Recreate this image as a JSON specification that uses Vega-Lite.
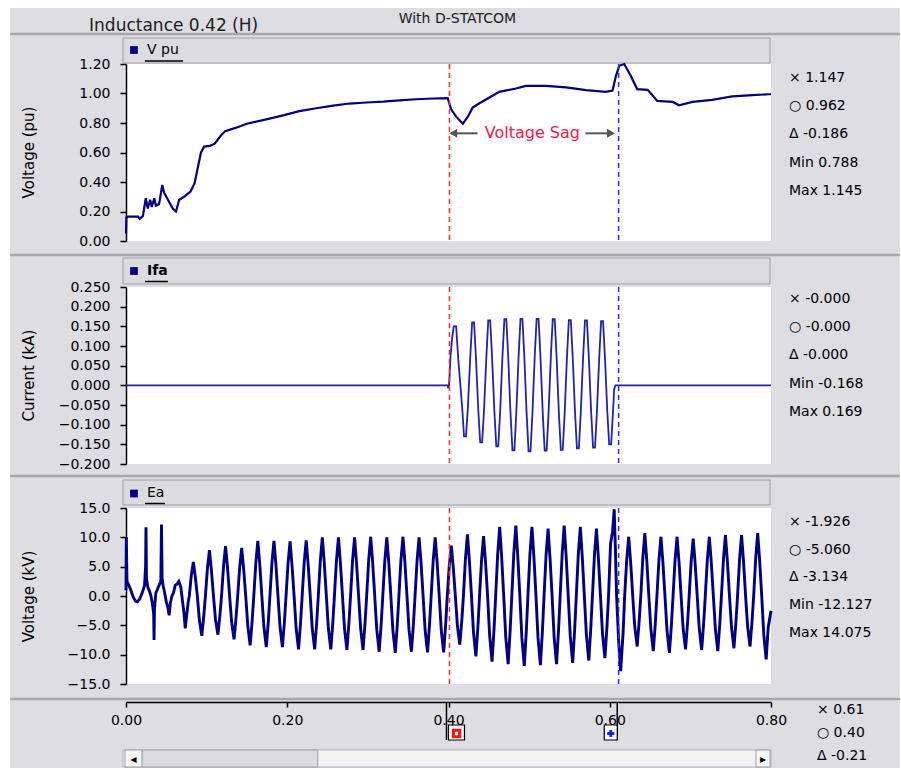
{
"$schema": "https://vega.github.io/schema/vega-lite/v6.json",
"background": "white",
"padding": {"left": 8, "top": 0, "right": 0, "bottom": 0},
"bounds": "flush",
"spacing": 0,
"resolve": {"scale": {"x": "independent", "y": "independent"}},
"config": {
  "font": "DejaVu Sans",
  "view": {"stroke": null},
  "axis": {"grid": false, "domainColor": "#000000", "tickColor": "#000000", "labelColor": "#000000", "titleColor": "#000000", "labelFont": "DejaVu Sans", "titleFont": "DejaVu Sans", "labelFontSize": 14, "titleFontSize": 15, "titleFontWeight": "normal", "tickSize": 6, "labelPadding": 10, "domainWidth": 1.5, "tickWidth": 1.5, "labelOverlap": false, "labelFlush": false, "tickCount": 40}
},
"data": {"values": [{}]},
"datasets": {
"vpu": [{"t":0,"v":0.05},{"t":0.0005,"v":0.16},{"t":0.003,"v":0.165},{"t":0.015,"v":0.165},{"t":0.017,"v":0.15},{"t":0.021,"v":0.17},{"t":0.0245,"v":0.29},{"t":0.027,"v":0.22},{"t":0.03,"v":0.28},{"t":0.032,"v":0.23},{"t":0.035,"v":0.29},{"t":0.037,"v":0.24},{"t":0.041,"v":0.25},{"t":0.045,"v":0.38},{"t":0.047,"v":0.33},{"t":0.052,"v":0.28},{"t":0.058,"v":0.22},{"t":0.062,"v":0.2},{"t":0.066,"v":0.28},{"t":0.072,"v":0.3},{"t":0.08,"v":0.335},{"t":0.085,"v":0.39},{"t":0.088,"v":0.47},{"t":0.093,"v":0.6},{"t":0.097,"v":0.64},{"t":0.104,"v":0.645},{"t":0.11,"v":0.66},{"t":0.117,"v":0.71},{"t":0.123,"v":0.745},{"t":0.13,"v":0.757},{"t":0.14,"v":0.775},{"t":0.15,"v":0.795},{"t":0.174,"v":0.825},{"t":0.195,"v":0.852},{"t":0.215,"v":0.88},{"t":0.236,"v":0.9},{"t":0.257,"v":0.918},{"t":0.277,"v":0.932},{"t":0.298,"v":0.939},{"t":0.319,"v":0.945},{"t":0.339,"v":0.954},{"t":0.36,"v":0.961},{"t":0.381,"v":0.966},{"t":0.399,"v":0.968},{"t":0.4033,"v":0.893},{"t":0.4095,"v":0.843},{"t":0.4178,"v":0.795},{"t":0.424,"v":0.843},{"t":0.43,"v":0.905},{"t":0.4384,"v":0.934},{"t":0.4508,"v":0.973},{"t":0.463,"v":1.011},{"t":0.4838,"v":1.034},{"t":0.496,"v":1.052},{"t":0.521,"v":1.052},{"t":0.546,"v":1.041},{"t":0.5705,"v":1.023},{"t":0.5953,"v":1.011},{"t":0.6035,"v":1.02},{"t":0.6077,"v":1.12},{"t":0.6118,"v":1.188},{"t":0.618,"v":1.2},{"t":0.626,"v":1.12},{"t":0.634,"v":1.03},{"t":0.647,"v":1.025},{"t":0.659,"v":0.95},{"t":0.678,"v":0.943},{"t":0.686,"v":0.92},{"t":0.7026,"v":0.943},{"t":0.727,"v":0.957},{"t":0.752,"v":0.98},{"t":0.777,"v":0.989},{"t":0.7975,"v":0.995},{"t":0.8,"v":0.995}],
"ifa": [{"t":0,"v":0},{"t":0.399,"v":0},{"t":0.3995,"v":-0.006},{"t":0.4005,"v":-0.006},{"t":0.4012,"v":0.02},{"t":0.4025,"v":0.075},{"t":0.4045,"v":0.12},{"t":0.4065,"v":0.15},{"t":0.4095,"v":0.15},{"t":0.412,"v":0.07},
{"t":0.417,"v":-0.058},{"t":0.4193,"v":-0.13},{"t":0.4217,"v":-0.13},{"t":0.424,"v":-0.058},
{"t":0.427,"v":0.072},{"t":0.4293,"v":0.16},{"t":0.4317,"v":0.16},{"t":0.434,"v":0.072},
{"t":0.437,"v":-0.065},{"t":0.4393,"v":-0.145},{"t":0.4417,"v":-0.145},{"t":0.444,"v":-0.065},
{"t":0.447,"v":0.074},{"t":0.4493,"v":0.165},{"t":0.4517,"v":0.165},{"t":0.454,"v":0.074},
{"t":0.457,"v":-0.07},{"t":0.4593,"v":-0.155},{"t":0.4617,"v":-0.155},{"t":0.464,"v":-0.07},
{"t":0.467,"v":0.076},{"t":0.4693,"v":0.168},{"t":0.4717,"v":0.168},{"t":0.474,"v":0.076},
{"t":0.477,"v":-0.074},{"t":0.4793,"v":-0.165},{"t":0.4817,"v":-0.165},{"t":0.484,"v":-0.074},
{"t":0.487,"v":0.076},{"t":0.4893,"v":0.169},{"t":0.4917,"v":0.169},{"t":0.494,"v":0.076},
{"t":0.497,"v":-0.076},{"t":0.4993,"v":-0.168},{"t":0.5017,"v":-0.168},{"t":0.504,"v":-0.076},
{"t":0.507,"v":0.076},{"t":0.5093,"v":0.169},{"t":0.5117,"v":0.169},{"t":0.514,"v":0.076},
{"t":0.517,"v":-0.075},{"t":0.5193,"v":-0.166},{"t":0.5217,"v":-0.166},{"t":0.524,"v":-0.075},
{"t":0.527,"v":0.076},{"t":0.5293,"v":0.168},{"t":0.5317,"v":0.168},{"t":0.534,"v":0.076},
{"t":0.537,"v":-0.074},{"t":0.5393,"v":-0.164},{"t":0.5417,"v":-0.164},{"t":0.544,"v":-0.074},
{"t":0.547,"v":0.075},{"t":0.5493,"v":0.166},{"t":0.5517,"v":0.166},{"t":0.554,"v":0.075},
{"t":0.557,"v":-0.072},{"t":0.5593,"v":-0.16},{"t":0.5617,"v":-0.16},{"t":0.564,"v":-0.072},
{"t":0.567,"v":0.074},{"t":0.5693,"v":0.165},{"t":0.5717,"v":0.165},{"t":0.574,"v":0.074},
{"t":0.577,"v":-0.071},{"t":0.5793,"v":-0.158},{"t":0.5817,"v":-0.158},{"t":0.584,"v":-0.071},
{"t":0.587,"v":0.073},{"t":0.5893,"v":0.163},{"t":0.5917,"v":0.163},{"t":0.594,"v":0.073},
{"t":0.597,"v":-0.068},{"t":0.5993,"v":-0.15},{"t":0.6017,"v":-0.15},{"t":0.604,"v":-0.068},{"t":0.6055,"v":-0.01},{"t":0.607,"v":0},{"t":0.8,"v":0}],
"ea": [{"t":0,"v":1.0},{"t":0.0004,"v":10.0},{"t":0.0012,"v":2.5},{"t":0.003,"v":2.0},{"t":0.006,"v":1.0},{"t":0.009,"v":-0.2},{"t":0.012,"v":-0.9},{"t":0.014,"v":-1.0},{"t":0.017,"v":-0.5},{"t":0.02,"v":0.5},{"t":0.023,"v":1.8},{"t":0.0243,"v":5.0},{"t":0.0248,"v":11.7},{"t":0.0254,"v":3.0},{"t":0.027,"v":1.5},{"t":0.029,"v":0.9},{"t":0.031,"v":0.0},{"t":0.033,"v":-1.5},{"t":0.0343,"v":-3.0},{"t":0.0348,"v":-7.5},{"t":0.0353,"v":-2.2},{"t":0.037,"v":0.5},{"t":0.04,"v":1.5},{"t":0.0432,"v":2.5},{"t":0.044,"v":12.2},{"t":0.0448,"v":3.0},{"t":0.046,"v":1.8},{"t":0.048,"v":0.5},{"t":0.05,"v":-1.0},{"t":0.052,"v":-2.0},{"t":0.0535,"v":-3.3},{"t":0.055,"v":-1.2},{"t":0.057,"v":0.0},{"t":0.059,"v":0.6},{"t":0.061,"v":1.8},{"t":0.063,"v":2.0},{"t":0.0655,"v":2.5},{"t":0.068,"v":1.5},{"t":0.07,"v":-0.8},{"t":0.072,"v":-3.0},{"t":0.0735,"v":-5.5},{"t":0.0755,"v":-3.0},{"t":0.0772,"v":-1.0},
{"t":0.0785,"v":0},{"t":0.081,"v":3.5},{"t":0.0835,"v":5.8},{"t":0.086,"v":3.2},{"t":0.0885,"v":0},{"t":0.091,"v":-4.1},{"t":0.094,"v":-6.8},{"t":0.0965,"v":-3.4},
{"t":0.0985,"v":0},{"t":0.101,"v":4.7},{"t":0.1035,"v":7.8},{"t":0.106,"v":4.3},{"t":0.1085,"v":0},{"t":0.111,"v":-4.0},{"t":0.114,"v":-6.6},{"t":0.1165,"v":-3.3},
{"t":0.1185,"v":0},{"t":0.121,"v":5.1},{"t":0.1235,"v":8.5},{"t":0.126,"v":4.7},{"t":0.1285,"v":0},{"t":0.131,"v":-4.4},{"t":0.134,"v":-7.4},{"t":0.1365,"v":-3.7},
{"t":0.1385,"v":0},{"t":0.141,"v":4.9},{"t":0.1435,"v":8.2},{"t":0.146,"v":4.5},{"t":0.1485,"v":0},{"t":0.151,"v":-5.0},{"t":0.154,"v":-8.4},{"t":0.1565,"v":-4.2},
{"t":0.1585,"v":0},{"t":0.161,"v":5.6},{"t":0.1635,"v":9.4},{"t":0.166,"v":5.2},{"t":0.1685,"v":0},{"t":0.171,"v":-5.2},{"t":0.174,"v":-8.7},{"t":0.1765,"v":-4.4},
{"t":0.1785,"v":0},{"t":0.181,"v":5.6},{"t":0.1835,"v":9.4},{"t":0.186,"v":5.2},{"t":0.1885,"v":0},{"t":0.191,"v":-5.2},{"t":0.194,"v":-8.7},{"t":0.1965,"v":-4.4},
{"t":0.1985,"v":0},{"t":0.201,"v":5.6},{"t":0.2035,"v":9.3},{"t":0.206,"v":5.1},{"t":0.2085,"v":0},{"t":0.211,"v":-5.5},{"t":0.214,"v":-9.1},{"t":0.2165,"v":-4.6},
{"t":0.2185,"v":0},{"t":0.221,"v":5.7},{"t":0.2235,"v":9.5},{"t":0.226,"v":5.2},{"t":0.2285,"v":0},{"t":0.231,"v":-5.5},{"t":0.234,"v":-9.1},{"t":0.2365,"v":-4.6},
{"t":0.2385,"v":0},{"t":0.241,"v":6.0},{"t":0.2435,"v":10.0},{"t":0.246,"v":5.5},{"t":0.2485,"v":0},{"t":0.251,"v":-5.5},{"t":0.254,"v":-9.1},{"t":0.2565,"v":-4.6},
{"t":0.2585,"v":0},{"t":0.261,"v":6.0},{"t":0.2635,"v":10.0},{"t":0.266,"v":5.5},{"t":0.2685,"v":0},{"t":0.271,"v":-5.5},{"t":0.274,"v":-9.2},{"t":0.2765,"v":-4.6},
{"t":0.2785,"v":0},{"t":0.281,"v":6.0},{"t":0.2835,"v":10.0},{"t":0.286,"v":5.5},{"t":0.2885,"v":0},{"t":0.291,"v":-5.5},{"t":0.294,"v":-9.2},{"t":0.2965,"v":-4.6},
{"t":0.2985,"v":0},{"t":0.301,"v":6.1},{"t":0.3035,"v":10.1},{"t":0.306,"v":5.6},{"t":0.3085,"v":0},{"t":0.311,"v":-5.7},{"t":0.314,"v":-9.5},{"t":0.3165,"v":-4.8},
{"t":0.3185,"v":0},{"t":0.321,"v":6.0},{"t":0.3235,"v":10.0},{"t":0.326,"v":5.5},{"t":0.3285,"v":0},{"t":0.331,"v":-5.8},{"t":0.334,"v":-9.7},{"t":0.3365,"v":-4.9},
{"t":0.3385,"v":0},{"t":0.341,"v":6.1},{"t":0.3435,"v":10.1},{"t":0.346,"v":5.6},{"t":0.3485,"v":0},{"t":0.351,"v":-5.7},{"t":0.354,"v":-9.5},{"t":0.3565,"v":-4.8},
{"t":0.3585,"v":0},{"t":0.361,"v":6.0},{"t":0.3635,"v":10.0},{"t":0.366,"v":5.5},{"t":0.3685,"v":0},{"t":0.371,"v":-5.8},{"t":0.374,"v":-9.6},{"t":0.3765,"v":-4.8},
{"t":0.3785,"v":0},{"t":0.381,"v":6.0},{"t":0.3835,"v":10.0},{"t":0.386,"v":5.5},{"t":0.3885,"v":0},{"t":0.391,"v":-5.8},{"t":0.394,"v":-9.6},{"t":0.3965,"v":-4.8},
{"t":0.3985,"v":0},{"t":0.401,"v":5.2},{"t":0.4035,"v":8.6},{"t":0.406,"v":4.7},{"t":0.4085,"v":0},{"t":0.411,"v":-5.0},{"t":0.414,"v":-8.3},{"t":0.4165,"v":-4.2},
{"t":0.4185,"v":0},{"t":0.421,"v":6.3},{"t":0.4235,"v":10.5},{"t":0.426,"v":5.8},{"t":0.4285,"v":0},{"t":0.431,"v":-6.2},{"t":0.434,"v":-10.3},{"t":0.4365,"v":-5.2},
{"t":0.4385,"v":0},{"t":0.441,"v":6.1},{"t":0.4435,"v":10.2},{"t":0.446,"v":5.6},{"t":0.4485,"v":0},{"t":0.451,"v":-6.7},{"t":0.454,"v":-11.2},{"t":0.4565,"v":-5.6},
{"t":0.4585,"v":0},{"t":0.461,"v":7.1},{"t":0.4635,"v":11.8},{"t":0.466,"v":6.5},{"t":0.4685,"v":0},{"t":0.471,"v":-7.0},{"t":0.474,"v":-11.6},{"t":0.4765,"v":-5.8},
{"t":0.4785,"v":0},{"t":0.481,"v":7.2},{"t":0.4835,"v":12.0},{"t":0.486,"v":6.6},{"t":0.4885,"v":0},{"t":0.491,"v":-7.1},{"t":0.494,"v":-11.9},{"t":0.4965,"v":-6.0},
{"t":0.4985,"v":0},{"t":0.501,"v":7.1},{"t":0.5035,"v":11.8},{"t":0.506,"v":6.5},{"t":0.5085,"v":0},{"t":0.511,"v":-7.1},{"t":0.514,"v":-11.8},{"t":0.5165,"v":-5.9},
{"t":0.5185,"v":0},{"t":0.521,"v":6.9},{"t":0.5235,"v":11.5},{"t":0.526,"v":6.3},{"t":0.5285,"v":0},{"t":0.531,"v":-7.0},{"t":0.534,"v":-11.6},{"t":0.5365,"v":-5.8},
{"t":0.5385,"v":0},{"t":0.541,"v":7.2},{"t":0.5435,"v":12.0},{"t":0.546,"v":6.6},{"t":0.5485,"v":0},{"t":0.551,"v":-6.8},{"t":0.554,"v":-11.4},{"t":0.5565,"v":-5.7},
{"t":0.5585,"v":0},{"t":0.561,"v":7.1},{"t":0.5635,"v":11.8},{"t":0.566,"v":6.5},{"t":0.5685,"v":0},{"t":0.571,"v":-6.6},{"t":0.574,"v":-11.0},{"t":0.5765,"v":-5.5},
{"t":0.5785,"v":0},{"t":0.581,"v":6.9},{"t":0.5835,"v":11.5},{"t":0.586,"v":6.3},{"t":0.5885,"v":0},{"t":0.591,"v":-6.4},{"t":0.594,"v":-10.6},{"t":0.5965,"v":-5.3},
{"t":0.5985,"v":0},{"t":0.601,"v":8.9},{"t":0.6035,"v":11.0},{"t":0.6055,"v":14.8},{"t":0.607,"v":8.1},{"t":0.6085,"v":0},{"t":0.611,"v":-7.7},{"t":0.6135,"v":-12.8},{"t":0.6165,"v":-6.4},
{"t":0.6185,"v":0},{"t":0.621,"v":6.1},{"t":0.6235,"v":10.1},{"t":0.626,"v":5.6},{"t":0.6285,"v":0},{"t":0.631,"v":-5.2},{"t":0.634,"v":-8.6},{"t":0.6365,"v":-4.3},
{"t":0.6385,"v":0},{"t":0.641,"v":6.4},{"t":0.6435,"v":10.7},{"t":0.646,"v":5.9},{"t":0.6485,"v":0},{"t":0.651,"v":-5.6},{"t":0.654,"v":-9.4},{"t":0.6565,"v":-4.7},
{"t":0.6585,"v":0},{"t":0.661,"v":6.1},{"t":0.6635,"v":10.1},{"t":0.666,"v":5.6},{"t":0.6685,"v":0},{"t":0.671,"v":-5.8},{"t":0.674,"v":-9.7},{"t":0.6765,"v":-4.9},
{"t":0.6785,"v":0},{"t":0.681,"v":6.1},{"t":0.6835,"v":10.1},{"t":0.686,"v":5.6},{"t":0.6885,"v":0},{"t":0.691,"v":-5.5},{"t":0.694,"v":-9.1},{"t":0.6965,"v":-4.6},
{"t":0.6985,"v":0},{"t":0.701,"v":5.9},{"t":0.7035,"v":9.8},{"t":0.706,"v":5.4},{"t":0.7085,"v":0},{"t":0.711,"v":-5.5},{"t":0.714,"v":-9.2},{"t":0.7165,"v":-4.6},
{"t":0.7185,"v":0},{"t":0.721,"v":6.1},{"t":0.7235,"v":10.1},{"t":0.726,"v":5.6},{"t":0.7285,"v":0},{"t":0.731,"v":-5.6},{"t":0.734,"v":-9.4},{"t":0.7365,"v":-4.7},
{"t":0.7385,"v":0},{"t":0.741,"v":6.2},{"t":0.7435,"v":10.4},{"t":0.746,"v":5.7},{"t":0.7485,"v":0},{"t":0.751,"v":-5.3},{"t":0.754,"v":-8.9},{"t":0.7565,"v":-4.5},
{"t":0.7585,"v":0},{"t":0.761,"v":6.2},{"t":0.7635,"v":10.4},{"t":0.766,"v":5.7},{"t":0.7685,"v":0},{"t":0.771,"v":-5.2},{"t":0.774,"v":-8.6},{"t":0.7765,"v":-4.3},
{"t":0.7785,"v":0},{"t":0.781,"v":6.4},{"t":0.7835,"v":10.7},{"t":0.786,"v":5.9},{"t":0.7885,"v":0},{"t":0.791,"v":-6.5},{"t":0.794,"v":-10.8},{"t":0.7965,"v":-5.4},{"t":0.8,"v":-2.5}]
},
"vconcat": [
{
  "width": 645, "height": 64,
  "layer": [
    {"mark": {"type": "rect", "fill": "#dddde2"}, "encoding": {"x": {"datum": -0.1437, "scale": {"domain": [0, 0.8], "nice": false, "zero": false}, "axis": null}, "x2": {"datum": 0.9597}, "y": {"datum": 8, "scale": {"domain": [0, 64], "reverse": true, "nice": false, "zero": false}, "axis": null}, "y2": {"datum": 768}}},
    {"mark": {"type": "rule", "color": "#a6a6ae", "strokeWidth": 2.5}, "encoding": {"x": {"datum": -0.1437}, "x2": {"datum": 0.9597}, "y": {"datum": 34}}},
    {"mark": {"type": "rect", "fill": "#dcdce0", "stroke": "#a0a0a8", "strokeWidth": 1}, "encoding": {"x": {"datum": -0.0037}, "x2": {"datum": 0.7988}, "y": {"datum": 38}, "y2": {"datum": 63}}},
    {"mark": {"type": "point", "shape": "square", "filled": true, "color": "#000080", "size": 60, "opacity": 1}, "encoding": {"x": {"datum": 0.0099}, "y": {"datum": 50}}},
    {"mark": {"type": "text", "text": "V pu", "align": "left", "baseline": "middle", "fontSize": 14, "color": "#000000"}, "encoding": {"x": {"datum": 0.026}, "y": {"datum": 50}}},
    {"mark": {"type": "rule", "color": "#000000", "strokeWidth": 1.5}, "encoding": {"x": {"datum": 0.0235}, "x2": {"datum": 0.0706}, "y": {"datum": 61}}},
    {"mark": {"type": "text", "text": "Inductance 0.42 (H)", "align": "left", "baseline": "middle", "fontSize": 17, "color": "#202020"}, "encoding": {"x": {"datum": -0.0458}, "y": {"datum": 26}}},
    {"mark": {"type": "text", "text": "With D-STATCOM", "align": "center", "baseline": "middle", "fontSize": 14, "color": "#202020"}, "encoding": {"x": {"datum": 0.4111}, "y": {"datum": 19}}}
  ]
},
{
  "width": 645, "height": 177,
  "view": {"fill": "white", "stroke": null},
  "layer": [
    {"data": {"name": "vpu"}, "mark": {"type": "line", "color": "#000080", "strokeWidth": 2.2},
     "encoding": {
       "x": {"field": "t", "type": "quantitative", "scale": {"domain": [0, 0.8], "nice": false, "zero": false}, "axis": null},
       "y": {"field": "v", "type": "quantitative", "scale": {"domain": [0, 1.2], "nice": false, "zero": false},
             "axis": {"values": [0, 0.2, 0.4, 0.6, 0.8, 1.0, 1.2], "tickCount": 40, "format": ".2f", "title": "Voltage (pu)", "titleX": -98, "titleY": 88, "titleAngle": -90, "titleAlign": "center", "titleBaseline": "middle"}}}},
    {"mark": {"type": "rule", "color": "#ff2a2a", "strokeDash": [5, 4], "strokeWidth": 1.5}, "encoding": {"x": {"datum": 0.4012}}},
    {"mark": {"type": "rule", "color": "#2a2aff", "strokeDash": [5, 4], "strokeWidth": 1.5}, "encoding": {"x": {"datum": 0.611}}},
    {"mark": {"type": "rule", "color": "#555555", "strokeWidth": 2}, "encoding": {"x": {"datum": 0.403}, "x2": {"datum": 0.436}, "y": {"datum": 0.73}}},
    {"mark": {"type": "rule", "color": "#555555", "strokeWidth": 2}, "encoding": {"x": {"datum": 0.5697}, "x2": {"datum": 0.604}, "y": {"datum": 0.73}}},
    {"mark": {"type": "point", "shape": "triangle-left", "filled": true, "color": "#555555", "size": 80, "opacity": 1}, "encoding": {"x": {"datum": 0.406}, "y": {"datum": 0.73}}},
    {"mark": {"type": "point", "shape": "triangle-right", "filled": true, "color": "#555555", "size": 80, "opacity": 1}, "encoding": {"x": {"datum": 0.6015}, "y": {"datum": 0.73}}},
    {"mark": {"type": "text", "text": "Voltage Sag", "align": "center", "baseline": "middle", "fontSize": 16, "color": "#f0204a"}, "encoding": {"x": {"datum": 0.504}, "y": {"datum": 0.732}}},
    {"mark": {"type": "text", "align": "left", "baseline": "top", "lineHeight": 28.25, "fontSize": 14, "color": "#000000"}, "encoding": {"x": {"datum": 0.8223}, "y": {"datum": 1.153}, "text": {"value": ["× 1.147", "○ 0.962", "Δ -0.186", "Min 0.788", "Max 1.145"]}}}
  ]
},
{
  "width": 645, "height": 46,
  "layer": [
    {"mark": {"type": "rule", "color": "#a6a6ae", "strokeWidth": 2.5}, "encoding": {"x": {"datum": -0.1437, "scale": {"domain": [0, 0.8], "nice": false, "zero": false}, "axis": null}, "x2": {"datum": 0.9597}, "y": {"datum": 14, "scale": {"domain": [0, 46], "reverse": true, "nice": false, "zero": false}, "axis": null}}},
    {"mark": {"type": "rect", "fill": "#dcdce0", "stroke": "#a0a0a8", "strokeWidth": 1}, "encoding": {"x": {"datum": -0.0037}, "x2": {"datum": 0.7988}, "y": {"datum": 17}, "y2": {"datum": 43}}},
    {"mark": {"type": "point", "shape": "square", "filled": true, "color": "#000080", "size": 60, "opacity": 1}, "encoding": {"x": {"datum": 0.0099}, "y": {"datum": 30}}},
    {"mark": {"type": "text", "text": "Ifa", "align": "left", "baseline": "middle", "fontSize": 14, "fontWeight": "bold", "color": "#000000"}, "encoding": {"x": {"datum": 0.026}, "y": {"datum": 30}}},
    {"mark": {"type": "rule", "color": "#000000", "strokeWidth": 1.5}, "encoding": {"x": {"datum": 0.0235}, "x2": {"datum": 0.052}, "y": {"datum": 40.5}}}
  ]
},
{
  "width": 645, "height": 177,
  "view": {"fill": "white", "stroke": null},
  "layer": [
    {"data": {"name": "ifa"}, "mark": {"type": "line", "color": "#2424a0", "strokeWidth": 1.8},
     "encoding": {
       "x": {"field": "t", "type": "quantitative", "scale": {"domain": [0, 0.8], "nice": false, "zero": false}, "axis": null},
       "y": {"field": "v", "type": "quantitative", "scale": {"domain": [-0.2, 0.25], "nice": false, "zero": false},
             "axis": {"values": [-0.2, -0.15, -0.1, -0.05, 0, 0.05, 0.1, 0.15, 0.2, 0.25], "tickCount": 40, "format": ".3f", "title": "Current (kA)", "titleX": -98, "titleY": 88, "titleAngle": -90, "titleAlign": "center", "titleBaseline": "middle"}}}},
    {"mark": {"type": "rule", "color": "#ff2a2a", "strokeDash": [5, 4], "strokeWidth": 1.5}, "encoding": {"x": {"datum": 0.4012}}},
    {"mark": {"type": "rule", "color": "#2a2aff", "strokeDash": [5, 4], "strokeWidth": 1.5}, "encoding": {"x": {"datum": 0.611}}},
    {"mark": {"type": "text", "align": "left", "baseline": "top", "lineHeight": 28.25, "fontSize": 14, "color": "#000000"}, "encoding": {"x": {"datum": 0.8223}, "y": {"datum": 0.2373}, "text": {"value": ["× -0.000", "○ -0.000", "Δ -0.000", "Min -0.168", "Max 0.169"]}}}
  ]
},
{
  "width": 645, "height": 44,
  "layer": [
    {"mark": {"type": "rule", "color": "#a6a6ae", "strokeWidth": 2.5}, "encoding": {"x": {"datum": -0.1437, "scale": {"domain": [0, 0.8], "nice": false, "zero": false}, "axis": null}, "x2": {"datum": 0.9597}, "y": {"datum": 12, "scale": {"domain": [0, 44], "reverse": true, "nice": false, "zero": false}, "axis": null}}},
    {"mark": {"type": "rect", "fill": "#dcdce0", "stroke": "#a0a0a8", "strokeWidth": 1}, "encoding": {"x": {"datum": -0.0037}, "x2": {"datum": 0.7988}, "y": {"datum": 16}, "y2": {"datum": 41}}},
    {"mark": {"type": "point", "shape": "square", "filled": true, "color": "#000080", "size": 60, "opacity": 1}, "encoding": {"x": {"datum": 0.0099}, "y": {"datum": 29.5}}},
    {"mark": {"type": "text", "text": "Ea", "align": "left", "baseline": "middle", "fontSize": 14, "color": "#000000"}, "encoding": {"x": {"datum": 0.026}, "y": {"datum": 29}}},
    {"mark": {"type": "rule", "color": "#000000", "strokeWidth": 1.5}, "encoding": {"x": {"datum": 0.0235}, "x2": {"datum": 0.0483}, "y": {"datum": 39.5}}}
  ]
},
{
  "width": 645, "height": 176,
  "view": {"fill": "white", "stroke": null},
  "layer": [
    {"data": {"name": "ea"}, "mark": {"type": "line", "color": "#000080", "strokeWidth": 2.9},
     "encoding": {
       "x": {"field": "t", "type": "quantitative", "scale": {"domain": [0, 0.8], "nice": false, "zero": false}, "axis": null},
       "y": {"field": "v", "type": "quantitative", "scale": {"domain": [-15, 15], "nice": false, "zero": false},
             "axis": {"values": [-15, -10, -5, 0, 5, 10, 15], "tickCount": 40, "format": ".1f", "title": "Voltage (kV)", "titleX": -98, "titleY": 88, "titleAngle": -90, "titleAlign": "center", "titleBaseline": "middle"}}}},
    {"mark": {"type": "rule", "color": "#ff2a2a", "strokeDash": [5, 4], "strokeWidth": 1.5}, "encoding": {"x": {"datum": 0.4012}}},
    {"mark": {"type": "rule", "color": "#2a2aff", "strokeDash": [5, 4], "strokeWidth": 1.5}, "encoding": {"x": {"datum": 0.611}}},
    {"mark": {"type": "text", "align": "left", "baseline": "top", "lineHeight": 27.75, "fontSize": 14, "color": "#000000"}, "encoding": {"x": {"datum": 0.8223}, "y": {"datum": 13.81}, "text": {"value": ["× -1.926", "○ -5.060", "Δ -3.134", "Min -12.127", "Max 14.075"]}}}
  ]
},
{
  "width": 645, "height": 18,
  "layer": [
    {"mark": {"type": "rule", "color": "#a6a6ae", "strokeWidth": 2.5}, "encoding": {"x": {"datum": -0.1437, "scale": {"domain": [0, 0.8], "nice": false, "zero": false},
       "axis": {"orient": "bottom", "values": [0, 0.2, 0.4, 0.6, 0.8], "tickCount": 40, "format": ".2f", "title": null, "tickSize": 5, "labelPadding": 6, "labelDx": -4, "labelFontSize": 14}},
       "x2": {"datum": 0.9597}, "y": {"datum": 15, "scale": {"domain": [0, 18], "reverse": true, "nice": false, "zero": false}, "axis": null}}},
    {"mark": {"type": "rule", "color": "#000000", "strokeWidth": 1.5}, "encoding": {"x": {"datum": 0.3975}, "y": {"datum": 18}, "y2": {"datum": 56}}},
    {"mark": {"type": "rule", "color": "#000000", "strokeWidth": 1.5}, "encoding": {"x": {"datum": 0.6093}, "y": {"datum": 18}, "y2": {"datum": 56}}},
    {"mark": {"type": "rect", "fill": "#ffffff", "stroke": "#000000", "strokeWidth": 1.2}, "encoding": {"x": {"datum": 0.4}, "x2": {"datum": 0.4198}, "y": {"datum": 41}, "y2": {"datum": 56}}},
    {"mark": {"type": "rect", "fill": "#ffffff", "stroke": "#000000", "strokeWidth": 1.2}, "encoding": {"x": {"datum": 0.5932}, "x2": {"datum": 0.6093}, "y": {"datum": 41}, "y2": {"datum": 56}}},
    {"mark": {"type": "point", "shape": "square", "filled": false, "color": "#ff1010", "strokeWidth": 3, "size": 40, "opacity": 1}, "encoding": {"x": {"datum": 0.41}, "y": {"datum": 49.5}}},
    {"mark": {"type": "point", "shape": "cross", "filled": true, "color": "#1020ff", "size": 50, "opacity": 1}, "encoding": {"x": {"datum": 0.6013}, "y": {"datum": 49.5}}},
    {"mark": {"type": "rect", "fill": "#f3f3f3", "stroke": "#b0b0b8", "strokeWidth": 1}, "encoding": {"x": {"datum": -0.0037}, "x2": {"datum": 0.8}, "y": {"datum": 66}, "y2": {"datum": 83}}},
    {"mark": {"type": "rect", "fill": "#dcdce0", "stroke": "#a0a0a8", "strokeWidth": 1}, "encoding": {"x": {"datum": 0.0198}, "x2": {"datum": 0.2378}, "y": {"datum": 66}, "y2": {"datum": 83}}},
    {"mark": {"type": "rect", "fill": "#f6f6f6", "stroke": "#a0a0a8", "strokeWidth": 1}, "encoding": {"x": {"datum": -0.0012}, "x2": {"datum": 0.0198}, "y": {"datum": 66}, "y2": {"datum": 83}}},
    {"mark": {"type": "rect", "fill": "#f6f6f6", "stroke": "#a0a0a8", "strokeWidth": 1}, "encoding": {"x": {"datum": 0.7814}, "x2": {"datum": 0.7988}, "y": {"datum": 66}, "y2": {"datum": 83}}},
    {"mark": {"type": "text", "text": "◂", "align": "center", "baseline": "middle", "fontSize": 12, "color": "#000000"}, "encoding": {"x": {"datum": 0.0093}, "y": {"datum": 74.5}}},
    {"mark": {"type": "text", "text": "▸", "align": "center", "baseline": "middle", "fontSize": 12, "color": "#000000"}, "encoding": {"x": {"datum": 0.79}, "y": {"datum": 74.5}}},
    {"mark": {"type": "text", "align": "left", "baseline": "top", "lineHeight": 23, "fontSize": 14, "color": "#000000"}, "encoding": {"x": {"datum": 0.857}, "y": {"datum": 19}, "text": {"value": ["× 0.61", "○ 0.40", "Δ -0.21"]}}}
  ]
}
]
}
